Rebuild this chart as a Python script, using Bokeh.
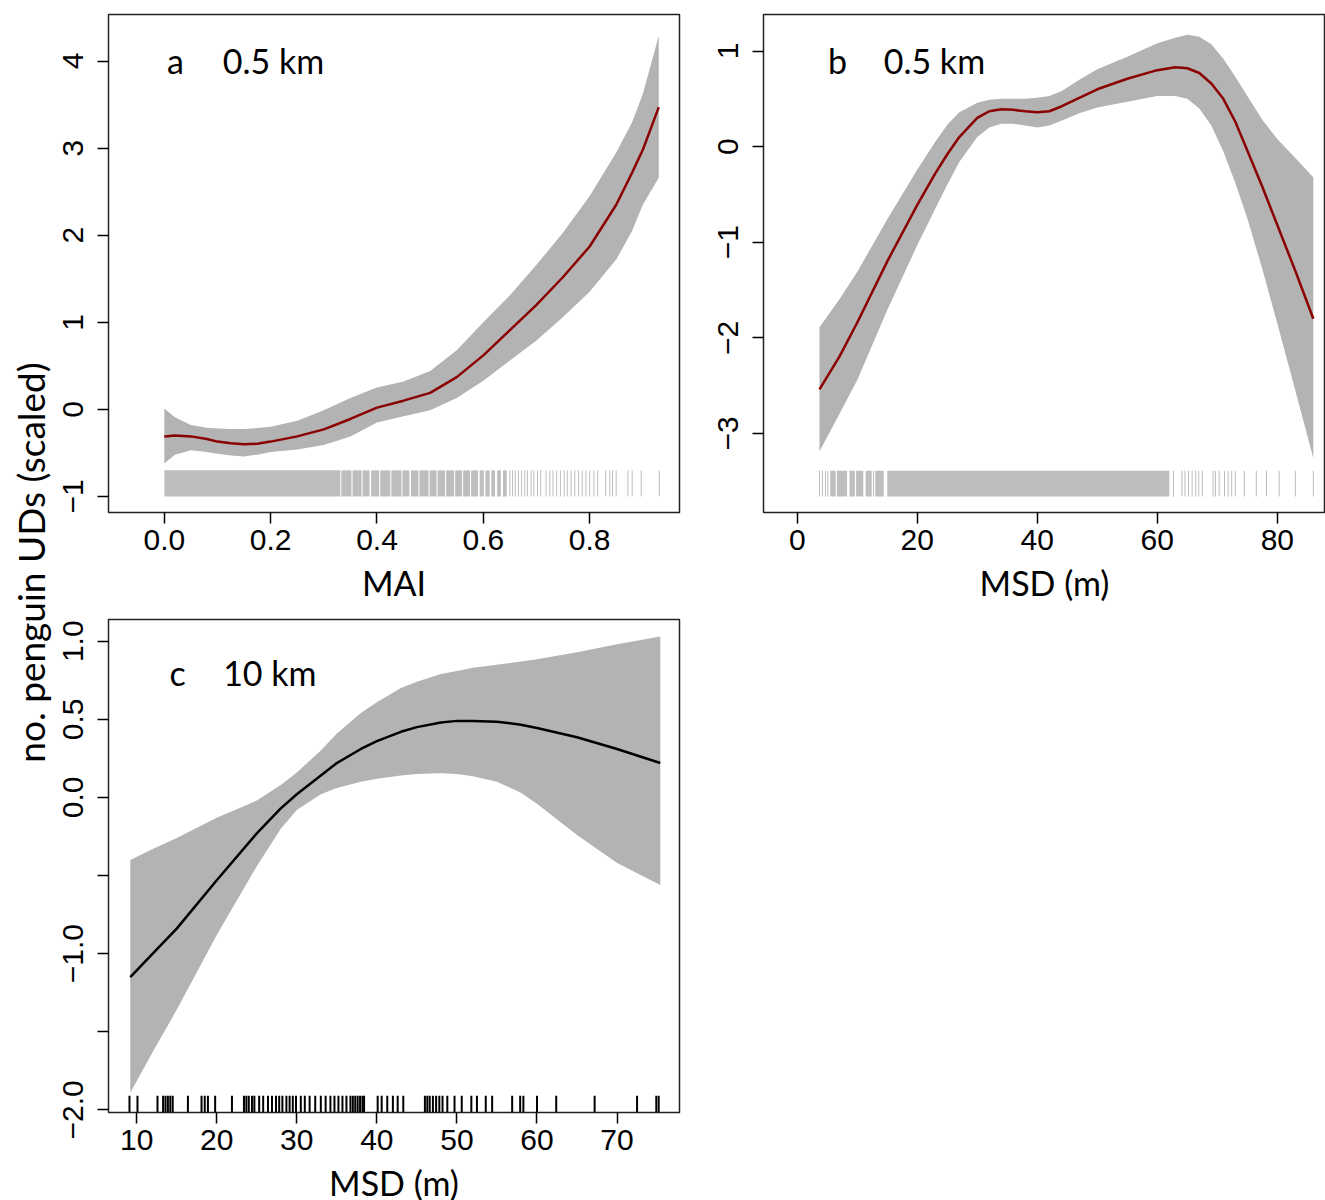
import math
from bokeh.plotting import figure
from bokeh.layouts import row, column
from bokeh.models import Label, FixedTicker, Range1d
from bokeh.embed import file_html
from bokeh.resources import INLINE

# ---------------- data ----------------
# panel a: MAI, 0.5 km
xa = [0.0, 0.02, 0.05, 0.08, 0.10, 0.125, 0.15, 0.175, 0.20, 0.25, 0.30, 0.35, 0.40, 0.45,
      0.50, 0.55, 0.60, 0.65, 0.70, 0.75, 0.80, 0.85, 0.88, 0.90, 0.93]
fit_a = [-0.31, -0.30, -0.31, -0.34, -0.37, -0.39, -0.40, -0.395, -0.37, -0.31, -0.23, -0.11,
         0.02, 0.10, 0.19, 0.37, 0.62, 0.91, 1.20, 1.52, 1.87, 2.35, 2.72, 2.98, 3.47]
upper_a = [0.01, -0.09, -0.18, -0.21, -0.22, -0.225, -0.225, -0.215, -0.20, -0.13, -0.01, 0.13,
           0.25, 0.32, 0.44, 0.68, 1.00, 1.31, 1.66, 2.03, 2.45, 2.95, 3.30, 3.62, 4.29]
lower_a = [-0.62, -0.52, -0.47, -0.49, -0.51, -0.53, -0.54, -0.52, -0.49, -0.46, -0.41, -0.31,
           -0.15, -0.08, -0.01, 0.13, 0.33, 0.56, 0.79, 1.06, 1.35, 1.72, 2.05, 2.35, 2.66]
rug_a_dense_lo = [0.000, 0.333, 0.354, 0.373, 0.389, 0.406, 0.427, 0.448, 0.464, 0.480, 0.499,
                  0.514, 0.530, 0.547, 0.562, 0.577, 0.593, 0.604, 0.615, 0.626, 0.637]
rug_a_dense_hi = [0.331, 0.352, 0.371, 0.386, 0.404, 0.425, 0.446, 0.461, 0.478, 0.497, 0.512,
                  0.528, 0.545, 0.560, 0.575, 0.590, 0.601, 0.612, 0.622, 0.633, 0.644]
rug_a = [0.650, 0.655, 0.660, 0.666, 0.672, 0.678, 0.683, 0.690, 0.695, 0.702, 0.708, 0.718,
         0.725, 0.731, 0.738, 0.745, 0.752, 0.758, 0.765, 0.772, 0.779, 0.786, 0.793,
         0.800, 0.808, 0.815, 0.830, 0.838, 0.843, 0.850, 0.872, 0.880, 0.897, 0.931]

# panel b: MSD (m), 0.5 km
xb = [3.7, 7, 10, 15, 20, 23, 25, 27, 30, 32, 34, 36, 38, 40, 42, 44, 47, 50, 55, 60, 63,
      65, 67, 69, 71, 73, 75, 77.5, 80, 83, 86]
fit_b = [-2.54, -2.20, -1.84, -1.20, -0.61, -0.28, -0.08, 0.10, 0.30, 0.37, 0.39, 0.385,
         0.37, 0.36, 0.37, 0.42, 0.51, 0.60, 0.71, 0.80, 0.83, 0.82, 0.77, 0.66, 0.50,
         0.26, -0.04, -0.42, -0.82, -1.30, -1.80]
upper_b = [-1.89, -1.60, -1.31, -0.76, -0.24, 0.05, 0.23, 0.36, 0.46, 0.49, 0.50, 0.50,
           0.50, 0.51, 0.53, 0.58, 0.70, 0.81, 0.94, 1.08, 1.14, 1.17, 1.15, 1.07, 0.92,
           0.73, 0.53, 0.28, 0.08, -0.12, -0.32]
lower_b = [-3.19, -2.80, -2.44, -1.71, -1.03, -0.65, -0.40, -0.16, 0.10, 0.20, 0.24, 0.24,
           0.22, 0.20, 0.22, 0.27, 0.35, 0.41, 0.47, 0.53, 0.53, 0.50, 0.40, 0.22, -0.05,
           -0.38, -0.75, -1.28, -1.85, -2.55, -3.26]
rug_b_dense_lo = [5.5, 6.6, 8.7, 9.8, 11.4, 13.0, 15.0]
rug_b_dense_hi = [6.4, 8.3, 9.6, 11.0, 12.4, 14.4, 62.0]
rug_b = [3.7, 4.2, 4.7, 5.1, 12.7, 62.7, 64.1, 64.6, 65.2, 65.8, 66.4, 66.9, 67.5,
         69.3, 69.7, 70.3, 71.2, 71.8, 72.4, 73.0, 74.5, 76.5, 78.2, 80.3, 83.0, 86.0]

# panel c: MSD (m), 10 km
xc = [9.2, 12, 15, 20, 25, 28, 30, 33, 35, 38, 40, 43, 45, 48, 50, 52, 55, 58, 60, 65, 70, 75.4]
fit_c = [-1.15, -1.00, -0.84, -0.53, -0.23, -0.07, 0.02, 0.14, 0.22, 0.31, 0.36, 0.42, 0.45,
         0.48, 0.49, 0.49, 0.485, 0.465, 0.445, 0.385, 0.31, 0.22]
upper_c = [-0.40, -0.33, -0.26, -0.13, -0.02, 0.08, 0.16, 0.30, 0.41, 0.54, 0.61, 0.70, 0.74,
           0.79, 0.81, 0.83, 0.85, 0.87, 0.885, 0.93, 0.98, 1.03]
lower_c = [-1.89, -1.63, -1.36, -0.88, -0.44, -0.20, -0.08, 0.02, 0.06, 0.10, 0.12, 0.14, 0.15,
           0.155, 0.15, 0.135, 0.10, 0.03, -0.04, -0.24, -0.42, -0.56]
rug_c = [9.1, 10.1, 12.6, 13.3, 13.6, 13.9, 14.2, 14.5, 16.4, 18.1, 18.5, 18.9, 19.8,
         21.9, 23.4, 23.7, 24.0, 24.4, 24.7, 25.3, 25.8, 26.4, 26.9, 27.4, 27.8, 28.2,
         28.7, 29.1, 29.5, 29.9, 30.5, 31.0, 31.6, 32.3, 33.0, 33.6, 34.2, 34.7, 35.2,
         35.7, 36.2, 36.7, 37.0, 37.3, 37.6, 37.9, 38.2, 38.4, 40.1, 40.6, 41.3, 42.0,
         42.6, 43.3, 46.0, 46.3, 46.6, 47.0, 47.4, 47.8, 48.2, 48.8, 49.7, 50.6, 51.8,
         52.5, 53.6, 54.4, 56.9, 57.9, 58.3, 60.0, 62.4, 67.2, 72.5, 74.9, 75.2]

ticks_xa = [0.0, 0.2, 0.4, 0.6, 0.8]
labels_xa = ["0.0", "0.2", "0.4", "0.6", "0.8"]
ticks_ya = [-1, 0, 1, 2, 3, 4]
labels_ya = ["\u22121", "0", "1", "2", "3", "4"]
ticks_xb = [0, 20, 40, 60, 80]
labels_xb = ["0", "20", "40", "60", "80"]
ticks_yb = [-3, -2, -1, 0, 1]
labels_yb = ["\u22123", "\u22122", "\u22121", "0", "1"]
ticks_xc = [10, 20, 30, 40, 50, 60, 70]
labels_xc = ["10", "20", "30", "40", "50", "60", "70"]
ticks_yc = [-2.0, -1.5, -1.0, -0.5, 0.0, 0.5, 1.0]
labels_yc = ["\u22122.0", "", "\u22121.0", "", "0.0", "0.5", "1.0"]

y_title = "no. penguin UDs (scaled)"

TICK_FONT = "Liberation Sans"
TEXT_FONT = "Lato"
BAND = "#B3B3B3"
RUG = "#BEBEBE"
RED = "#8B0000"

STRIP_W = 54           # width of the column that holds the shared y title
LEFT_B = 108 - STRIP_W  # left border of panels a and c


def panel(xr, yr, left, right, top, bottom, fw, fh):
    p = figure(x_range=Range1d(*xr), y_range=Range1d(*yr), frame_width=fw, frame_height=fh,
               min_border_left=left, min_border_right=right, min_border_top=top,
               min_border_bottom=bottom, toolbar_location=None, output_backend="svg")
    p.grid.visible = False
    p.outline_line_color = "#222222"
    p.outline_line_width = 1.5
    p.background_fill_color = "white"
    p.border_fill_color = "white"
    return p


def style_axes(p, tx, lx, ty, ly, xlabel):
    p.xaxis.ticker = FixedTicker(ticks=tx)
    p.yaxis.ticker = FixedTicker(ticks=ty)
    p.xaxis.major_label_overrides = {t: l for t, l in zip(tx, lx)}
    p.yaxis.major_label_overrides = {t: l for t, l in zip(ty, ly)}
    for ax in p.axis:
        ax.axis_line_color = None
        ax.major_tick_out = 11
        ax.major_tick_in = 0
        ax.minor_tick_out = 0
        ax.minor_tick_in = 0
        ax.major_tick_line_color = "black"
        ax.major_tick_line_width = 1.5
        ax.major_label_text_font = TICK_FONT
        ax.major_label_text_font_size = "30px"
        ax.major_label_text_color = "black"
    p.yaxis.major_label_orientation = "vertical"
    p.yaxis.major_label_standoff = 14
    p.xaxis.major_label_standoff = 6
    p.xaxis.axis_label = xlabel
    p.xaxis.axis_label_text_font = TEXT_FONT
    p.xaxis.axis_label_text_font_size = "34px"
    p.xaxis.axis_label_text_font_style = "normal"
    p.xaxis.axis_label_text_color = "black"
    p.xaxis.axis_label_standoff = 9


def tag(p, letter, lx, dist, tx, ty):
    p.add_layout(Label(x=lx, y=ty, text=letter, text_font=TEXT_FONT, text_font_size="34px",
                       text_align="center", text_baseline="middle", text_color="black"))
    p.add_layout(Label(x=tx, y=ty, text=dist, text_font=TEXT_FONT, text_font_size="34px",
                       text_align="left", text_baseline="middle", text_color="black"))


# ---------------- panel a ----------------
pa = panel((-0.105, 0.969), (-1.184, 4.534), LEFT_B, 11, 14, 93, 571, 498)
pa.varea(x=xa, y1=lower_a, y2=upper_a, fill_color=BAND)
pa.quad(left=rug_a_dense_lo, right=rug_a_dense_hi, bottom=-1.0, top=-0.70,
        fill_color=RUG, line_color=None)
pa.segment(x0=rug_a, x1=rug_a, y0=-1.0, y1=-0.70, line_color=RUG, line_width=1)
pa.line(xa, fit_a, line_color=RED, line_width=2.5)
style_axes(pa, ticks_xa, labels_xa, ticks_ya, labels_ya, "MAI")
tag(pa, "a", 0.021, "0.5 km", 0.11, 4.01)

# ---------------- panel b ----------------
pb = panel((-5.63, 88.03), (-3.827, 1.382), 73, 0, 14, 93, 562, 498)
pb.varea(x=xb, y1=lower_b, y2=upper_b, fill_color=BAND)
pb.quad(left=rug_b_dense_lo, right=rug_b_dense_hi, bottom=-3.66, top=-3.39,
        fill_color=RUG, line_color=None)
pb.segment(x0=rug_b, x1=rug_b, y0=-3.66, y1=-3.39, line_color=RUG, line_width=1)
pb.line(xb, fit_b, line_color=RED, line_width=2.5)
style_axes(pb, ticks_xb, labels_xb, ticks_yb, labels_yb, "MSD (m)")
tag(pb, "b", 6.7, "0.5 km", 14.4, 0.905)

# ---------------- panel c ----------------
pc = panel((6.48, 77.8), (-2.017, 1.139), LEFT_B, 11, 14, 88, 571, 493)
pc.varea(x=xc, y1=lower_c, y2=upper_c, fill_color=BAND)
pc.segment(x0=rug_c, x1=rug_c, y0=-2.017, y1=-1.91, line_color="black", line_width=2)
pc.line(xc, fit_c, line_color="black", line_width=2.5)
style_axes(pc, ticks_xc, labels_xc, ticks_yc, labels_yc, "MSD (m)")
tag(pc, "c", 15.1, "10 km", 20.8, 0.80)

# ---------------- shared y title (full-height strip on the left) ----------------
ps = figure(width=STRIP_W, height=1200, x_range=Range1d(0, STRIP_W), y_range=Range1d(0, 1200),
            min_border=0, x_axis_location=None, y_axis_location=None,
            toolbar_location=None, output_backend="svg")
ps.grid.visible = False
ps.outline_line_color = None
ps.background_fill_color = "white"
ps.border_fill_color = "white"
ps.add_layout(Label(x=30, y=1200 - 562, text=y_title, angle=math.pi / 2,
                    text_font=TEXT_FONT, text_font_size="37px", text_align="center",
                    text_baseline="middle", text_color="black"))

layout = row(ps, column(row(pa, pb), pc))
open("out.html", "w").write(file_html(layout, INLINE))
